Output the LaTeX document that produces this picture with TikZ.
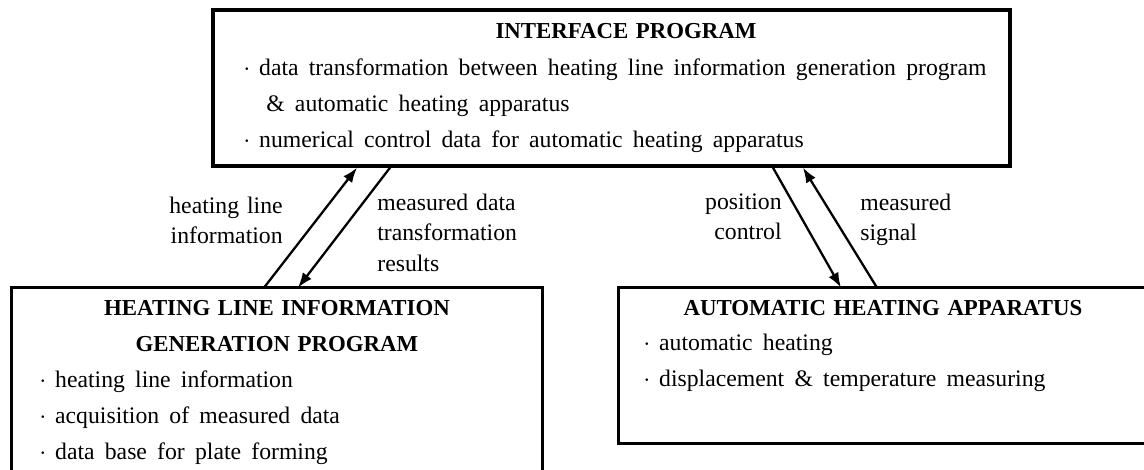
\documentclass[tikz,border=0pt]{standalone}
\usepackage{fontspec}
\setmainfont{Liberation Serif}
\usetikzlibrary{arrows.meta,calc,positioning}

\newcommand{\bul}{$\cdot$\hspace{5pt}}
\newcommand{\widesp}{\spaceskip=.43em\relax}

\begin{document}
\begin{tikzpicture}[x=0.02cm,y=-0.02cm,
    box/.style={draw,line width=1.9pt,inner sep=0pt},
    frame/.style={line width=1.9pt},
    title/.style={font=\fontsize{13}{21}\selectfont\bfseries,
                  align=center,text width=9cm,anchor=base,inner sep=0pt},
    items/.style={font=\fontsize{13.5}{20.5}\selectfont,
                  align=left,text width=15.5cm,anchor=base west,inner sep=0pt},
    lab/.style={font=\fontsize{13.5}{17.6}\selectfont,
                text width=3cm,inner sep=0pt},
    link/.style={line width=1.3pt},
    >={Latex[length=3mm,width=2.2mm]}]
%
  \useasboundingbox (0,0) rectangle (1144,470);
%
  % the three blocks
  \node[box,minimum width=15.94cm,minimum height=3.12cm] (iface) at (611.5,88) {};
  \node[inner sep=0pt,minimum width=10.6cm,minimum height=3.64cm] (hlgen) at (277,379) {};
  \node[inner sep=0pt,minimum width=10.5cm,minimum height=3.1cm] (autoh) at (881.5,365.5) {};
  \draw[frame] (hlgen.south west) |- (hlgen.north east) -- (hlgen.south east);
  \draw[frame] (autoh.north east) -| (autoh.south west) -- (autoh.south east);
%
  \node[title] (ifacet) at (626,38) {INTERFACE PROGRAM};
  \node[items] (ifacel) at (243,75) {\widesp\bul data transformation between heating line information generation program\\
    \hspace*{0.46cm}\& automatic heating apparatus\\
    \bul numerical control data for automatic heating apparatus};
%
  \node[title] (hlgent) at (277,315) {HEATING LINE INFORMATION\\ GENERATION PROGRAM};
  \node[items] (hlgenl) at (39,387) {\widesp\bul heating line information\\
    \bul acquisition of measured data\\
    \bul data base for plate forming};
%
  \node[title] (autoht) at (883,315) {AUTOMATIC HEATING APPARATUS};
  \node[items] (autohl) at (643,350) {\widesp\bul automatic heating\\
    \bul displacement \& temperature measuring};
%
  % data flow
  \draw[link,->] ([xshift=-0.26cm]hlgen.north) -- ([xshift=-5.09cm]iface.south);
  \draw[link,->] ([xshift=-4.43cm]iface.south) -- ([xshift=0.42cm]hlgen.north);
  \draw[link,->] ([xshift=3.23cm]iface.south) -- ([xshift=-0.81cm]autoh.north);
  \draw[link,->] ([xshift=-0.09cm]autoh.north) -- ([xshift=3.83cm]iface.south);
%
  \node[lab,align=right,anchor=base east] (hlil) at (283,213) {heating line\\ information};
  \node[lab,align=left,anchor=base west] (mdtl) at (377,210) {measured data\\ transformation\\ results};
  \node[lab,align=right,anchor=base east] (pcl) at (782,209) {position\\ control};
  \node[lab,align=left,anchor=base west] (msl) at (860,210) {measured\\ signal};
%
\end{tikzpicture}
\end{document}
